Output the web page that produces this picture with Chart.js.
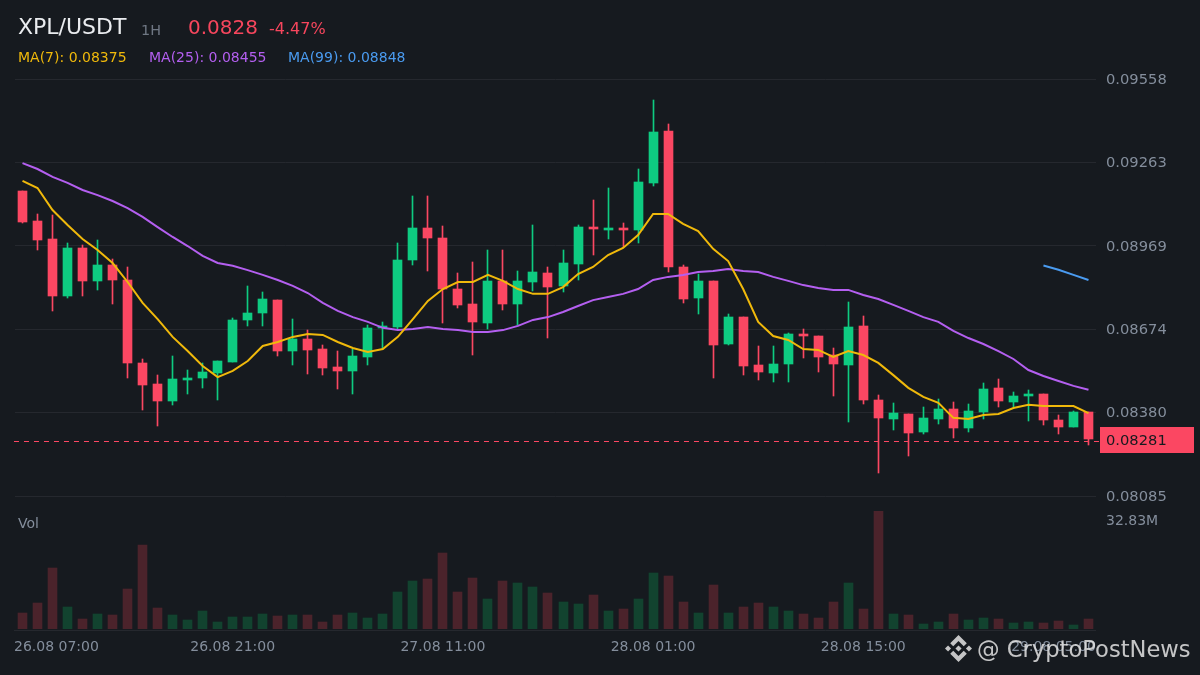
<!DOCTYPE html>
<html>
<head>
<meta charset="utf-8">
<title>XPL/USDT</title>
<script src="https://cdn.jsdelivr.net/npm/chart.js@4"></script>
<style>
	html, body { margin: 0; padding: 0; background: #161a1f; }
	#page { position: relative; width: 1200px; height: 675px; overflow: hidden; background: #161a1f; font-family: "DejaVu Sans", sans-serif; }
	#page canvas { position: absolute; left: 0; }
	.txt { position: absolute; white-space: pre; line-height: 1; }
	.logo { position: absolute; left: 945px; top: 635px; width: 27px; height: 27px; opacity: .85; }
</style>
</head>
<body>
<div id="page">
	<canvas id="priceChart" width="1200" height="520" style="top:0"></canvas>
	<canvas id="volChart" width="1200" height="175" style="top:500px"></canvas>

	<div class="txt" style="left:18px;top:16px;font-size:22px;color:#eaecef">XPL/USDT</div>
	<div class="txt" style="left:141px;top:23px;font-size:14.4px;color:#6f7783">1H</div>
	<div class="txt" style="left:188px;top:17px;font-size:20px;color:#f6465d">0.0828</div>
	<div class="txt" style="left:269px;top:21px;font-size:16px;color:#f6465d">-4.47%</div>
	<div class="txt" style="left:18px;top:50px;font-size:14px;color:#f0b90b">MA(7): 0.08375</div>
	<div class="txt" style="left:149px;top:50px;font-size:14px;color:#b45ff0">MA(25): 0.08455</div>
	<div class="txt" style="left:288px;top:50px;font-size:14px;color:#4a9bf0">MA(99): 0.08848</div>
	<div class="txt" style="left:18px;top:516px;font-size:14px;color:#848e9c">Vol</div>
	<div class="txt" style="left:1106px;top:513px;font-size:14px;color:#848e9c">32.83M</div>

	<svg class="logo" viewBox="0 0 126.61 126.61" fill="#e4e4e4">
		<path d="m38.73 53.2 24.59-24.58 24.6 24.6 14.3-14.31-38.9-38.91-38.9 38.9z"/>
		<path d="m0 63.31 14.3-14.31 14.31 14.31-14.31 14.3z"/>
		<path d="m38.73 73.41 24.59 24.59 24.6-24.6 14.31 14.29-38.9 38.91-38.91-38.88z"/>
		<path d="m98 63.31 14.3-14.31 14.31 14.3-14.31 14.32z"/>
		<path d="m77.83 63.3-14.51-14.52-10.73 10.73-1.24 1.23-2.54 2.54 14.51 14.5 14.51-14.47z"/>
	</svg>
	<div class="txt" style="left:977px;top:638px;font-size:22.6px;color:rgba(228,228,228,.85)">@ CryptoPostNews</div>
</div>

<script>
	// values
	const opens = [0.09162,0.09056,0.08993,0.08792,0.08961,0.08845,0.08901,0.08848,0.08555,0.08481,0.08421,0.08495,0.08502,0.08520,0.08558,0.08707,0.08732,0.08777,0.08597,0.08640,0.08604,0.08541,0.08527,0.08576,0.08679,0.08682,0.08919,0.09032,0.08996,0.08816,0.08763,0.08696,0.08845,0.08763,0.08841,0.08873,0.08827,0.08905,0.09035,0.09025,0.09032,0.09025,0.09191,0.09374,0.08894,0.08785,0.08845,0.08622,0.08717,0.08548,0.08520,0.08551,0.08657,0.08650,0.08583,0.08548,0.08686,0.08424,0.08357,0.08375,0.08311,0.08357,0.08393,0.08325,0.08382,0.08467,0.08417,0.08438,0.08445,0.08354,0.08329,0.08382];
	const closes = [0.09053,0.08989,0.08792,0.08961,0.08845,0.08901,0.08848,0.08555,0.08477,0.08421,0.08498,0.08502,0.08523,0.08562,0.08707,0.08732,0.08781,0.08597,0.08640,0.08601,0.08537,0.08527,0.08580,0.08679,0.08686,0.08919,0.09032,0.08996,0.08816,0.08760,0.08700,0.08845,0.08763,0.08845,0.08876,0.08823,0.08908,0.09035,0.09028,0.09032,0.09025,0.09194,0.09371,0.08894,0.08781,0.08845,0.08618,0.08717,0.08544,0.08523,0.08551,0.08657,0.08650,0.08576,0.08551,0.08682,0.08424,0.08361,0.08378,0.08308,0.08361,0.08393,0.08325,0.08385,0.08463,0.08421,0.08438,0.08445,0.08354,0.08329,0.08382,0.08286];
	const highs = [0.09162,0.09081,0.09078,0.08979,0.08972,0.08989,0.08922,0.08894,0.08569,0.08512,0.08580,0.08530,0.08555,0.08562,0.08714,0.08827,0.08806,0.08777,0.08710,0.08671,0.08618,0.08597,0.08604,0.08689,0.08700,0.08979,0.09145,0.09145,0.09039,0.08873,0.08912,0.08954,0.08954,0.08880,0.09042,0.08894,0.08954,0.09042,0.09131,0.09173,0.09049,0.09240,0.09484,0.09399,0.08901,0.08869,0.08845,0.08728,0.08717,0.08615,0.08615,0.08661,0.08675,0.08650,0.08608,0.08770,0.08721,0.08442,0.08414,0.08375,0.08400,0.08428,0.08417,0.08410,0.08484,0.08498,0.08452,0.08460,0.08445,0.08371,0.08385,0.08382];
	const lows = [0.09049,0.08954,0.08739,0.08785,0.08792,0.08813,0.08763,0.08502,0.08389,0.08332,0.08407,0.08445,0.08467,0.08424,0.08558,0.08686,0.08686,0.08580,0.08548,0.08516,0.08512,0.08463,0.08445,0.08548,0.08604,0.08675,0.08901,0.08880,0.08696,0.08749,0.08583,0.08675,0.08742,0.08689,0.08809,0.08643,0.08806,0.08848,0.08936,0.08993,0.08965,0.08979,0.09180,0.08876,0.08767,0.08728,0.08502,0.08618,0.08512,0.08495,0.08488,0.08488,0.08573,0.08523,0.08438,0.08346,0.08410,0.08166,0.08318,0.08226,0.08304,0.08339,0.08290,0.08311,0.08357,0.08400,0.08400,0.08350,0.08336,0.08304,0.08329,0.08265];
	const ma7 = [0.09198,0.09173,0.09095,0.09042,0.08993,0.08954,0.08908,0.08841,0.08767,0.08710,0.08647,0.08597,0.08544,0.08505,0.08527,0.08562,0.08615,0.08629,0.08647,0.08657,0.08654,0.08629,0.08608,0.08594,0.08604,0.08647,0.08710,0.08774,0.08816,0.08841,0.08841,0.08866,0.08845,0.08816,0.08799,0.08799,0.08823,0.08869,0.08894,0.08936,0.08961,0.09007,0.09081,0.09081,0.09046,0.09021,0.08958,0.08915,0.08816,0.08700,0.08650,0.08636,0.08604,0.08601,0.08576,0.08597,0.08583,0.08555,0.08512,0.08467,0.08435,0.08414,0.08361,0.08357,0.08371,0.08375,0.08396,0.08407,0.08403,0.08403,0.08403,0.08378];
	const ma25 = [0.09261,0.09240,0.09212,0.09191,0.09166,0.09148,0.09127,0.09102,0.09071,0.09035,0.09000,0.08968,0.08933,0.08908,0.08898,0.08883,0.08866,0.08848,0.08827,0.08802,0.08767,0.08739,0.08717,0.08700,0.08679,0.08671,0.08675,0.08682,0.08675,0.08671,0.08664,0.08664,0.08671,0.08686,0.08707,0.08717,0.08735,0.08756,0.08777,0.08788,0.08799,0.08816,0.08848,0.08859,0.08866,0.08876,0.08880,0.08887,0.08880,0.08876,0.08859,0.08845,0.08830,0.08820,0.08813,0.08813,0.08795,0.08781,0.08760,0.08739,0.08717,0.08700,0.08668,0.08643,0.08622,0.08597,0.08569,0.08530,0.08509,0.08491,0.08474,0.08460];
	// only the last four candles of the 99 line are inside the window
	const ma99Tail = [0.08899,0.08884,0.08866,0.08848];
	const volumes = [4.45,7.23,16.97,6.12,2.78,4.17,3.89,11.13,23.37,5.84,3.89,2.50,5.01,1.95,3.34,3.34,4.17,3.62,3.89,3.89,1.95,3.89,4.45,3.06,4.17,10.29,13.35,13.91,21.14,10.29,14.19,8.35,13.35,12.80,11.69,10.02,7.51,6.96,9.46,5.01,5.56,8.35,15.58,14.75,7.51,4.45,12.24,4.45,6.12,7.23,6.12,5.01,4.17,3.06,7.51,12.80,5.56,32.83,4.17,3.89,1.39,1.95,4.17,2.50,3.06,2.78,1.67,1.95,1.67,2.23,1.11,2.78];

	const priceTicks = [0.08085,0.08380,0.08674,0.08969,0.09263,0.09558];
	const lastPrice = 0.08281;
	const timeTickIndexes = [0,14,28,42,56,70];
	const timeTickLabels = ['26.08 07:00','26.08 21:00','27.08 11:00','28.08 01:00','28.08 15:00','29.08 05:00'];

	const UP = '#0ecb81';
	const DOWN = '#fb4762';
	const UP_VOL = '#12432f';
	const DOWN_VOL = '#4b232b';
	const GRID = '#25282e';
	const TICK = '#848e9c';

	const categories = opens.map((o, i) => i);
	const isUp = opens.map((o, i) => closes[i] >= o);
	const ma99 = categories.map(i => i < 68 ? null : ma99Tail[i - 68]);

	function maLine (data, color) {
		return {
			type: 'line',
			data: data,
			borderColor: color,
			borderWidth: 2,
			pointRadius: 0,
			tension: 0,
			spanGaps: false,
			order: 0
		};
	}

	// keep bars on whole pixels, otherwise the 1px wicks go blurry
	const snapBarsPlugin = {
		id: 'snapBars',
		afterDatasetsUpdate (chart) {
			chart.getSortedVisibleDatasetMetas().forEach(meta => {
				if (meta.type !== 'bar') return;
				meta.data.forEach(el => {
					el.x = Math.floor(el.x) + 0.5;
					el.y = Math.round(el.y);
					el.base = Math.round(el.base);
				});
			});
		}
	};

	// dashed last price line and its red box
	const lastPricePlugin = {
		id: 'lastPrice',
		afterDraw (chart) {
			const ctx = chart.ctx;
			const y = Math.round(chart.scales.y.getPixelForValue(lastPrice)) + 0.5;
			ctx.save();
			ctx.strokeStyle = DOWN;
			ctx.lineWidth = 1;
			ctx.setLineDash([5, 5]);
			ctx.beginPath();
			ctx.moveTo(14, y);
			ctx.lineTo(1100, y);
			ctx.stroke();
			ctx.fillStyle = DOWN;
			ctx.fillRect(1100, y - 14.5, 94, 26);
			ctx.fillStyle = '#161a1f';
			ctx.font = '14.7px "DejaVu Sans"';
			ctx.textBaseline = 'middle';
			ctx.fillText(lastPrice.toFixed(5), 1106, y);
			ctx.restore();
		}
	};

	// time labels get pushed back inside the plot at both ends
	const timeAxisPlugin = {
		id: 'timeAxis',
		afterDraw (chart) {
			const ctx = chart.ctx;
			const area = chart.chartArea;
			ctx.save();
			ctx.strokeStyle = GRID;
			ctx.beginPath();
			ctx.moveTo(14, area.bottom + 1.5);
			ctx.lineTo(area.right, area.bottom + 1.5);
			ctx.stroke();
			ctx.fillStyle = TICK;
			ctx.font = '14px "DejaVu Sans"';
			ctx.textBaseline = 'middle';
			ctx.textAlign = 'center';
			timeTickIndexes.forEach((idx, i) => {
				const half = ctx.measureText(timeTickLabels[i]).width / 2;
				const x = chart.scales.x.getPixelForValue(idx);
				ctx.fillText(timeTickLabels[i], Math.min(Math.max(x, 14 + half), area.right - half), 147);
			});
			ctx.restore();
		}
	};

	new Chart(document.getElementById('priceChart').getContext('2d'), {
		type: 'bar',
		data: {
			labels: categories,
			datasets: [
				maLine(ma7, '#f0b90b'),
				maLine(ma25, '#b45ff0'),
				maLine(ma99, '#4a9bf0'),
				{
					data: opens.map((o, i) => [o, closes[i]]),
					backgroundColor: isUp.map(u => u ? UP : DOWN),
					barThickness: 9,
					grouped: false,
					order: 1
				},
				{
					data: lows.map((l, i) => [l, highs[i]]),
					backgroundColor: isUp.map(u => u ? UP : DOWN),
					barThickness: 1,
					grouped: false,
					order: 2
				}
			]
		},
		options: {
			responsive: false,
			animation: false,
			layout: { padding: { left: 15, top: 79, bottom: 24, right: 0 } },
			plugins: { legend: { display: false }, tooltip: { enabled: false } },
			scales: {
				x: { display: false, grid: { display: false } },
				y: {
					position: 'right',
					min: 0.08085,
					max: 0.09558,
					afterBuildTicks (scale) {
						scale.ticks = priceTicks.map(v => ({ value: v }));
					},
					afterFit (scale) {
						scale.width = 104;
					},
					grid: { color: GRID, drawTicks: false },
					border: { display: false },
					ticks: {
						padding: 10,
						labelOffset: 1,
						autoSkip: false,
						color: TICK,
						font: { family: '"DejaVu Sans"', size: 14.7 },
						callback: v => v.toFixed(5)
					}
				}
			}
		},
		plugins: [snapBarsPlugin, lastPricePlugin]
	});

	new Chart(document.getElementById('volChart').getContext('2d'), {
		type: 'bar',
		data: {
			labels: categories,
			datasets: [{
				data: volumes,
				backgroundColor: isUp.map(u => u ? UP_VOL : DOWN_VOL),
				barThickness: 9
			}]
		},
		options: {
			responsive: false,
			animation: false,
			layout: { padding: { left: 15, right: 104, top: 11, bottom: 46 } },
			plugins: { legend: { display: false }, tooltip: { enabled: false } },
			scales: {
				x: { display: false, grid: { display: false } },
				y: { display: false, min: 0, max: 32.83 }
			}
		},
		plugins: [snapBarsPlugin, timeAxisPlugin]
	});
</script>
</body>
</html>
